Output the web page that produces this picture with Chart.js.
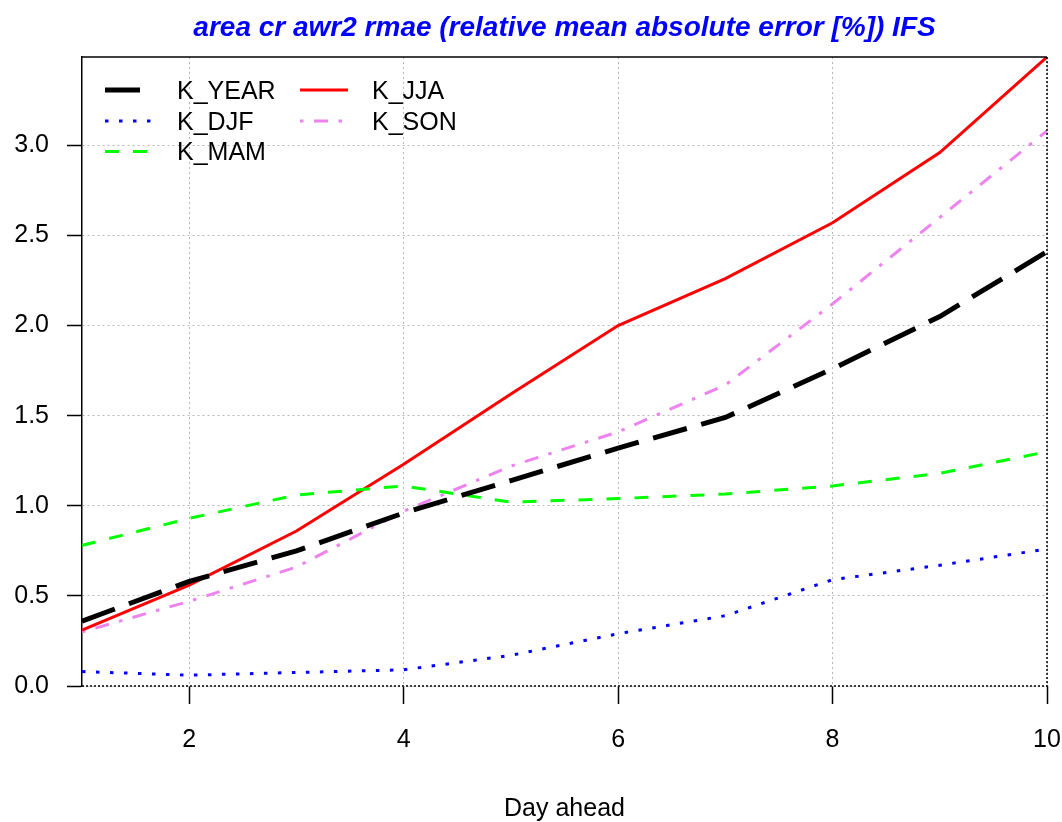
<!DOCTYPE html>
<html>
<head>
<meta charset="utf-8">
<script src="https://cdn.jsdelivr.net/npm/chart.js@4.4.1/dist/chart.umd.min.js"></script>
<style>
  html, body { margin: 0; padding: 0; background: #fff; }
  #wrap { width: 1062px; height: 822px; }
</style>
</head>
<body>
<div id="wrap"><canvas id="chart" width="1062" height="822"></canvas></div>
<script>
// data
const days = [1, 2, 3, 4, 5, 6, 7, 8, 9, 10];
const kYear = [0.36, 0.58, 0.75, 0.96, 1.14, 1.32, 1.49, 1.76, 2.05, 2.41];
const kDjf = [0.08, 0.06, 0.075, 0.09, 0.17, 0.29, 0.39, 0.59, 0.67, 0.76];
const kMam = [0.78, 0.93, 1.06, 1.11, 1.02, 1.04, 1.065, 1.11, 1.18, 1.30];
const kJja = [0.31, 0.56, 0.86, 1.23, 1.62, 2.00, 2.26, 2.57, 2.96, 3.49];
const kSon = [0.30, 0.47, 0.66, 0.97, 1.22, 1.41, 1.67, 2.12, 2.60, 3.08];
const seriesNames = ['K_YEAR', 'K_DJF', 'K_MAM', 'K_JJA', 'K_SON'];
const xTicks = [2, 4, 6, 8, 10];
const yTicks = [0, 0.5, 1.0, 1.5, 2.0, 2.5, 3.0];

const FONT = '"Liberation Sans", Arial, sans-serif';

const styles = [
    { color: '#000000', width: 5, dash: [35, 15] },
    { color: '#0000FF', width: 3, dash: [3.5, 10.5] },
    { color: '#00FF00', width: 3, dash: [14, 14] },
    { color: '#FF0000', width: 3, dash: [] },
    { color: '#EE82EE', width: 3, dash: [3.5, 10.5, 14, 10.5] }
];

const allSeries = [kYear, kDjf, kMam, kJja, kSon];

const datasets = allSeries.map((vals, i) => ({
    label: seriesNames[i],
    data: days.map((d, j) => ({ x: d, y: vals[j] })),
    borderColor: styles[i].color,
    borderWidth: styles[i].width,
    borderDash: styles[i].dash,
    pointRadius: 0,
    tension: 0,
    fill: false
}));

// R style legend inside the plot, two columns, no box
const legendPlugin = {
    id: 'rLegend',
    afterDatasetsDraw(chart) {
        const ctx = chart.ctx;
        const colX = [105, 300];
        const rowY = [90, 121, 151.5];
        ctx.save();
        chart.data.datasets.forEach((ds, i) => {
            const col = i < 3 ? 0 : 1;
            const row = i < 3 ? i : i - 3;
            const x = colX[col];
            const y = rowY[row];
            ctx.strokeStyle = ds.borderColor;
            ctx.lineWidth = ds.borderWidth;
            ctx.setLineDash(ds.borderDash);
            ctx.beginPath();
            ctx.moveTo(x, y);
            ctx.lineTo(x + 48, y);
            ctx.stroke();
            ctx.setLineDash([]);
            ctx.fillStyle = '#000';
            ctx.font = '25px ' + FONT;
            ctx.textBaseline = 'middle';
            ctx.textAlign = 'left';
            ctx.fillText(ds.label, x + 72, y + 2);
        });
        ctx.restore();
    }
};

// top solid, right and bottom dotted box edges
const boxPlugin = {
    id: 'rBox',
    afterDraw(chart) {
        const a = chart.chartArea;
        const ctx = chart.ctx;
        ctx.save();
        ctx.strokeStyle = '#000';
        ctx.lineWidth = 1.5;
        ctx.beginPath();
        ctx.moveTo(a.left, a.top);
        ctx.lineTo(a.right, a.top);
        ctx.stroke();
        ctx.setLineDash([2, 2]);
        ctx.beginPath();
        ctx.moveTo(a.right, a.top);
        ctx.lineTo(a.right, a.bottom);
        ctx.moveTo(a.left, a.bottom);
        ctx.lineTo(a.right, a.bottom);
        ctx.stroke();
        ctx.restore();
    }
};

new Chart(document.getElementById('chart'), {
    type: 'line',
    data: { datasets: datasets },
    options: {
        responsive: false,
        animation: false,
        layout: { padding: { left: 0, right: 15, top: 0, bottom: 0 } },
        plugins: {
            legend: { display: false },
            tooltip: { enabled: false },
            title: {
                display: true,
                fullSize: false,
                text: 'area cr awr2 rmae (relative mean absolute error [%]) IFS',
                color: '#0000FF',
                font: { family: FONT, size: 28, style: 'italic', weight: 'bold', lineHeight: 1.2 },
                padding: { top: 11.5, bottom: 11.9 }
            }
        },
        scales: {
            x: {
                type: 'linear',
                min: 1,
                max: 10,
                afterBuildTicks: s => { s.ticks = xTicks.map(v => ({ value: v })); },
                afterFit: s => { s.height = 136; s.paddingLeft = 0; s.paddingRight = 0; },
                ticks: {
                    autoSkip: false,
                    maxRotation: 0,
                    color: '#000',
                    padding: 21,
                    font: { family: FONT, size: 25 },
                    callback: v => String(v)
                },
                grid: {
                    color: '#b8b8b8',
                    lineWidth: 1,
                    tickLength: 18,
                    tickColor: '#000',
                    tickWidth: 1.5,
                    tickBorderDash: []
                },
                border: { display: false, dash: [2, 3] },
                title: {
                    display: true,
                    text: 'Day ahead',
                    color: '#000',
                    font: { family: FONT, size: 25, lineHeight: 1.0 },
                    padding: { top: 0, bottom: 0 }
                }
            },
            y: {
                type: 'linear',
                min: 0,
                max: 3.49,
                afterBuildTicks: s => { s.ticks = yTicks.map(v => ({ value: v })); },
                afterFit: s => { s.width = 82; s.paddingTop = 0; s.paddingBottom = 0; },
                ticks: {
                    color: '#000',
                    padding: 18,
                    font: { family: FONT, size: 25 },
                    callback: v => v.toFixed(1)
                },
                grid: {
                    color: '#b8b8b8',
                    lineWidth: 1,
                    tickLength: 15,
                    tickColor: '#000',
                    tickWidth: 1.5,
                    tickBorderDash: []
                },
                border: { display: true, color: '#000', width: 1.5, dash: [2, 3] }
            }
        }
    },
    plugins: [legendPlugin, boxPlugin]
});
</script>
</body>
</html>
